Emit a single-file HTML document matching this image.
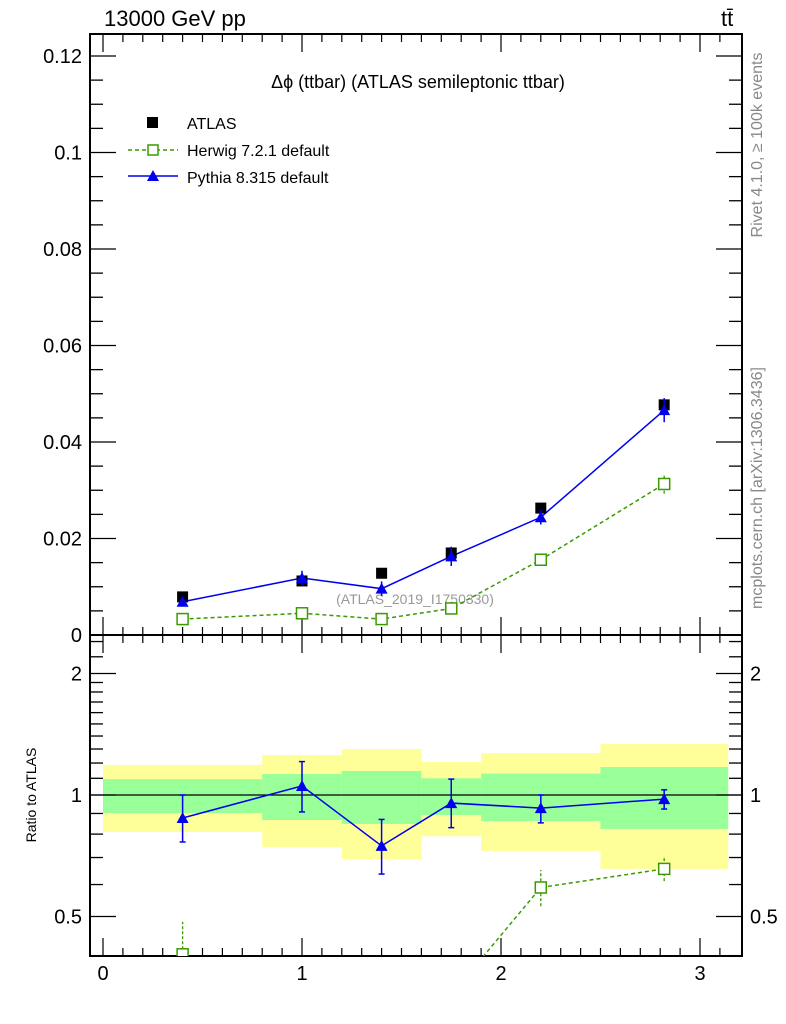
<!DOCTYPE html>
<html><head><meta charset="utf-8"><style>
body{margin:0;background:#fff}
svg{display:block;font-family:"Liberation Sans",sans-serif}
</style></head><body>
<svg id="c" width="786" height="1024" viewBox="0 0 786 1024" xmlns="http://www.w3.org/2000/svg">
<text x="104" y="26" font-size="22">13000 GeV pp</text>
<text x="721" y="26" font-size="22">tt̄</text>
<text x="418" y="88" font-size="18" text-anchor="middle">Δϕ (ttbar) (ATLAS semileptonic ttbar)</text>
<text x="415" y="604" font-size="14" fill="#999" text-anchor="middle">(ATLAS_2019_I1750330)</text>
<text transform="translate(762,145) rotate(-90)" font-size="16" fill="#888" text-anchor="middle">Rivet 4.1.0, ≥ 100k events</text>
<text transform="translate(762,488) rotate(-90)" font-size="16" fill="#888" text-anchor="middle">mcplots.cern.ch [arXiv:1306.3436]</text>
<text transform="translate(36,795) rotate(-90)" font-size="14" text-anchor="middle">Ratio to ATLAS</text>
<g id="legend">
<rect x="147" y="117" width="11" height="11" fill="#000"/>
<text x="187" y="129" font-size="16">ATLAS</text>
<line x1="128" y1="150" x2="178" y2="150" stroke="#3a9a00" stroke-width="1.5" stroke-dasharray="4,3"/>
<rect x="148" y="145" width="10" height="10" fill="#fff" stroke="#3a9a00" stroke-width="1.5"/>
<text x="187" y="156" font-size="16">Herwig 7.2.1 default</text>
<line x1="128" y1="176" x2="178" y2="176" stroke="#0000ee" stroke-width="1.5"/>
<path d="M153,170 L159,181 L147,181 Z" fill="#0000ee"/>
<text x="187" y="183" font-size="16">Pythia 8.315 default</text>
</g>
<g id="plot"></g>
</svg>
<script>
const centers=[0.4,1.0,1.4,1.75,2.2,2.82];
const edges=[0,0.8,1.2,1.6,1.9,2.5,3.1416];
const atlas=[0.0079,0.0112,0.0128,0.0170,0.0263,0.0477];
const pythia=[0.0069,0.0118,0.0096,0.0163,0.0244,0.0466];
const pythiaErr=[0.0005,0.0015,0.0015,0.0020,0.0015,0.0025];
const herwig=[0.0033,0.0045,0.0033,0.0055,0.0156,0.0313];
const herwigErr=[0.0003,0.0004,0.0003,0.0005,0.0012,0.0020];
const yellowHi=[1.187,1.256,1.30,1.207,1.27,1.337];
const yellowLo=[0.81,0.743,0.694,0.79,0.727,0.656];
const greenHi=[1.095,1.127,1.147,1.10,1.13,1.173];
const greenLo=[0.902,0.867,0.848,0.892,0.862,0.824];
const pyRatio=[0.877,1.053,0.748,0.955,0.928,0.977];
const pyRatioHi=[1.0,1.21,0.87,1.095,1.0,1.03];
const pyRatioLo=[0.765,0.908,0.637,0.83,0.853,0.923];
const hwRatio=[0.403,0.37,0.26,0.32,0.59,0.656];
const hwRatioHi=[0.485,0.395,0.29,0.36,0.652,0.706];
const hwRatioLo=[0.37,0.35,0.23,0.29,0.53,0.612];
const mainTicks=[0,0.02,0.04,0.06,0.08,0.1,0.12];
const mainTickLabels=["0","0.02","0.04","0.06","0.08","0.1","0.12"];
const xTicks=[0,1,2,3];
const ratioTicks=[0.5,1,2];

const NS="http://www.w3.org/2000/svg";
const L=90,R=742,T=34,M=635,B=956;
const X=v=>103+v*199;
const Y=v=>M-v*4825;
const YR=v=>795-Math.log2(v)*121.5;
const g=document.getElementById('plot');
function el(t,a){const e=document.createElementNS(NS,t);for(const k in a)e.setAttribute(k,a[k]);g.appendChild(e);return e;}
for(let i=0;i<centers.length;i++){
 let r=el('rect',{x:X(edges[i]),y:YR(yellowHi[i]),width:X(edges[i+1])-X(edges[i]),height:YR(yellowLo[i])-YR(yellowHi[i]),fill:'#ffff99'});
 
 
 r=el('rect',{x:X(edges[i]),y:YR(greenHi[i]),width:X(edges[i+1])-X(edges[i]),height:YR(greenLo[i])-YR(greenHi[i]),fill:'#99ff99'});
 
 
}
el('line',{x1:L,y1:795,x2:R,y2:795,stroke:'#000','stroke-width':1.3});
el('rect',{x:L,y:T,width:R-L,height:M-T,fill:'none',stroke:'#000','stroke-width':2});
el('rect',{x:L,y:M,width:R-L,height:B-M,fill:'none',stroke:'#000','stroke-width':2});
for(let v=0;v<=3.15;v+=0.1){
 const major=Math.abs(v-Math.round(v))<1e-6;const len=major?18:8;const x=X(v);
 el('line',{x1:x,y1:M,x2:x,y2:M-len,stroke:'#000','stroke-width':1.2});
 el('line',{x1:x,y1:T,x2:x,y2:T+len,stroke:'#000','stroke-width':1.2});
 el('line',{x1:x,y1:B,x2:x,y2:B-len,stroke:'#000','stroke-width':1.2});
 el('line',{x1:x,y1:M,x2:x,y2:M+len,stroke:'#000','stroke-width':1.2});
}
xTicks.forEach(v=>{const t=el('text',{x:X(v),y:980,'font-size':20,'text-anchor':'middle'});t.textContent=v;
 
 });
for(let v=0;v<=0.1201;v+=0.005){
 const major=Math.abs(v/0.02-Math.round(v/0.02))<1e-6;const len=major?26:13;const y=Y(v);
 el('line',{x1:L,y1:y,x2:L+len,y2:y,stroke:'#000','stroke-width':1.3});
 el('line',{x1:R,y1:y,x2:R-len,y2:y,stroke:'#000','stroke-width':1.3});
}
mainTicks.forEach((v,i)=>{const t=el('text',{x:82,y:Y(v)+7,'font-size':20,'text-anchor':'end'});t.textContent=mainTickLabels[i];
 
 });
const minor=[];for(let v=0.4;v<2;v+=0.1)minor.push(v);minor.push(2,2.2,2.4);
minor.forEach(v=>{const y=YR(v);if(y<M||y>B)return;const major=ratioTicks.some(t=>Math.abs(t-v)<1e-6);const len=major?26:13;
 el('line',{x1:L,y1:y,x2:L+len,y2:y,stroke:'#000','stroke-width':1.3});
 el('line',{x1:R,y1:y,x2:R-len,y2:y,stroke:'#000','stroke-width':1.3});});
ratioTicks.forEach(v=>{let t=el('text',{x:82,y:YR(v)+7,'font-size':20,'text-anchor':'end'});t.textContent=v;
 
 
 t=el('text',{x:750,y:YR(v)+7,'font-size':20});t.textContent=v;
 
 });
const hw=el('polyline',{points:centers.map((c,i)=>X(c)+','+Y(herwig[i])).join(' '),fill:'none',stroke:'#3a9a00','stroke-width':1.5,'stroke-dasharray':'4,3'});


const py=el('polyline',{points:centers.map((c,i)=>X(c)+','+Y(pythia[i])).join(' '),fill:'none',stroke:'#0000ee','stroke-width':1.5});


centers.forEach((c,i)=>{
 const x=X(c);
 el('line',{x1:x,y1:Y(herwig[i]-herwigErr[i]),x2:x,y2:Y(herwig[i]+herwigErr[i]),stroke:'#3a9a00','stroke-width':1.3,'stroke-dasharray':'3,2'});
 let m=el('rect',{x:x-5.5,y:Y(herwig[i])-5.5,width:11,height:11,fill:'#fff',stroke:'#3a9a00','stroke-width':1.5});
 
 
 m=el('rect',{x:x-5.5,y:Y(atlas[i])-5.5,width:11,height:11,fill:'#000'});
 
 
 el('line',{x1:x,y1:Y(pythia[i]-pythiaErr[i]),x2:x,y2:Y(pythia[i]+pythiaErr[i]),stroke:'#0000ee','stroke-width':1.5});
 const y=Y(pythia[i]);
 m=el('path',{d:`M${x},${y-6} L${x+6},${y+5} L${x-6},${y+5} Z`,fill:'#0000ee'});
 
 
});
const cp=el('clipPath',{id:'rc'});const cr=document.createElementNS(NS,'rect');
cr.setAttribute('x',L);cr.setAttribute('y',M);cr.setAttribute('width',R-L);cr.setAttribute('height',B-M);cp.appendChild(cr);
const rg=el('g',{'clip-path':'url(#rc)'});
function rel(t,a){const e=el(t,a);rg.appendChild(e);return e;}
let l=rel('polyline',{points:centers.map((c,i)=>X(c)+','+YR(hwRatio[i])).slice(3).join(' '),fill:'none',stroke:'#3a9a00','stroke-width':1.5,'stroke-dasharray':'4,3'});


l=rel('polyline',{points:centers.map((c,i)=>X(c)+','+YR(pyRatio[i])).join(' '),fill:'none',stroke:'#0000ee','stroke-width':1.5});


centers.forEach((c,i)=>{
 const x=X(c);
 rel('line',{x1:x,y1:YR(hwRatioLo[i]),x2:x,y2:YR(hwRatioHi[i]),stroke:'#3a9a00','stroke-width':1.3,'stroke-dasharray':'3,2'});
 let m=rel('rect',{x:x-5.5,y:YR(hwRatio[i])-5.5,width:11,height:11,fill:'#fff',stroke:'#3a9a00','stroke-width':1.5});
 
 
 rel('line',{x1:x,y1:YR(pyRatioLo[i]),x2:x,y2:YR(pyRatioHi[i]),stroke:'#0000ee','stroke-width':1.5});
 rel('line',{x1:x-3,y1:YR(pyRatioLo[i]),x2:x+3,y2:YR(pyRatioLo[i]),stroke:'#0000ee','stroke-width':1.5});
 rel('line',{x1:x-3,y1:YR(pyRatioHi[i]),x2:x+3,y2:YR(pyRatioHi[i]),stroke:'#0000ee','stroke-width':1.5});
 const y=YR(pyRatio[i]);
 m=rel('path',{d:`M${x},${y-6} L${x+6},${y+5} L${x-6},${y+5} Z`,fill:'#0000ee'});
 
 
});
</script>
</body></html>
